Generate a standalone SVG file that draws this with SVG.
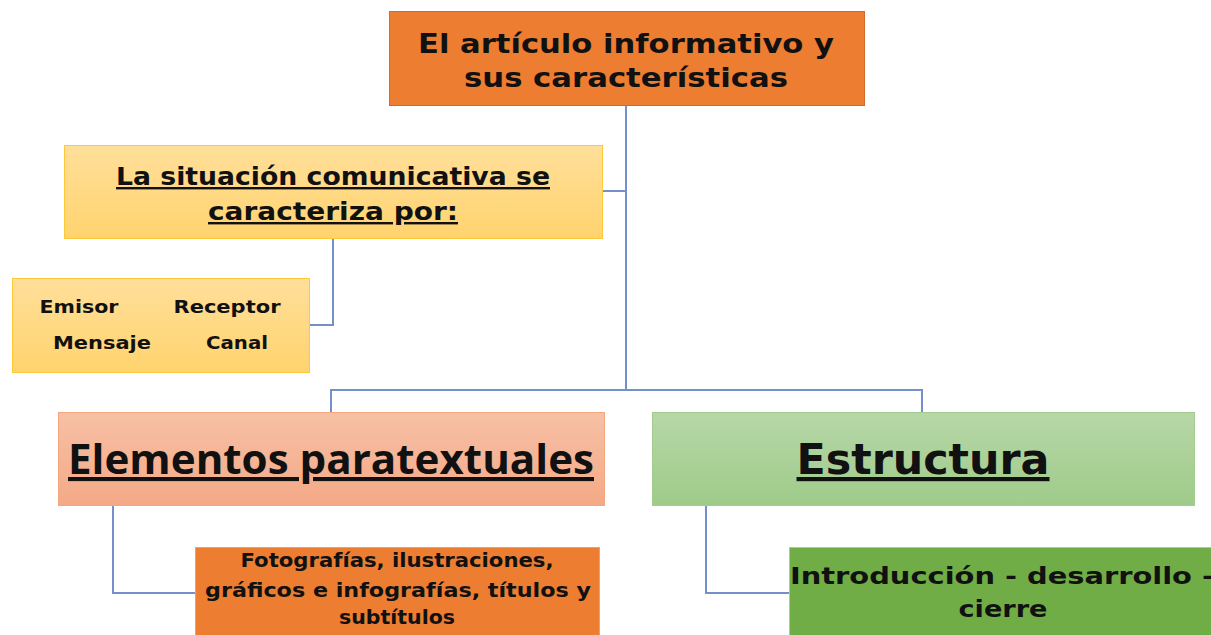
<svg xmlns="http://www.w3.org/2000/svg" width="1211" height="635" viewBox="0 0 1211 635">
<defs>
<linearGradient id="gYel" x1="0" y1="0" x2="0" y2="1"><stop offset="0" stop-color="#FFDF9A"/><stop offset="1" stop-color="#FFD36E"/></linearGradient>
<linearGradient id="gSal" x1="0" y1="0" x2="0" y2="1"><stop offset="0" stop-color="#F7C0A6"/><stop offset="1" stop-color="#F4A986"/></linearGradient>
<linearGradient id="gGrn" x1="0" y1="0" x2="0" y2="1"><stop offset="0" stop-color="#B7D7A8"/><stop offset="1" stop-color="#9FCB8A"/></linearGradient>
<style>
.t{font-family:"Comic Sans MS","DejaVu Sans",sans-serif;font-weight:bold;fill:#111;text-anchor:middle}
.c{fill:none;stroke:#7391C8;stroke-width:2}
</style>
</defs>
<rect width="1211" height="635" fill="#fff"/>
<g id="connectors">
<path class="c" d="M626 105V390"/>
<path class="c" d="M603 191H626"/>
<path class="c" d="M333 239V325H310"/>
<path class="c" d="M331 412V390H922V412"/>
<path class="c" d="M113 506V593H195"/>
<path class="c" d="M706 506V593H789"/>
</g>
<g id="n-title">
<rect x="389.5" y="11.5" width="475" height="94" fill="#ED7D31" stroke="#D5692A"/>
<text class="t" x="626" y="53" font-size="27" textLength="416" lengthAdjust="spacingAndGlyphs">El artículo informativo y</text>
<text class="t" x="626" y="87" font-size="27" textLength="324" lengthAdjust="spacingAndGlyphs">sus características</text>
</g>
<g id="n-situacion">
<rect x="64.5" y="145.5" width="538" height="93" fill="url(#gYel)" stroke="#FFC838"/>
<text class="t" x="333" y="185" font-size="24" text-decoration="underline" textLength="434" lengthAdjust="spacingAndGlyphs">La situación comunicativa se</text>
<text class="t" x="333" y="220" font-size="24" text-decoration="underline" textLength="250" lengthAdjust="spacingAndGlyphs">caracteriza por:</text>
</g>
<g id="n-emisor">
<rect x="12.5" y="278.5" width="297" height="94" fill="url(#gYel)" stroke="#FFC838"/>
<text class="t" x="79" y="313" font-size="18" textLength="79" lengthAdjust="spacingAndGlyphs">Emisor</text>
<text class="t" x="227" y="313" font-size="18" textLength="107" lengthAdjust="spacingAndGlyphs">Receptor</text>
<text class="t" x="102" y="349" font-size="18" textLength="98" lengthAdjust="spacingAndGlyphs">Mensaje</text>
<text class="t" x="237" y="349" font-size="18" textLength="62" lengthAdjust="spacingAndGlyphs">Canal</text>
</g>
<g id="n-elementos">
<rect x="58.5" y="412.5" width="546" height="93" fill="url(#gSal)" stroke="#F4A67E"/>
<text x="331" y="474" font-family="'Open Sans','Liberation Sans',sans-serif" font-weight="bold" font-size="41" fill="#111" text-anchor="middle" text-decoration="underline" textLength="526" lengthAdjust="spacingAndGlyphs">Elementos paratextuales</text>
</g>
<g id="n-estructura">
<rect x="652.5" y="412.5" width="542" height="93" fill="url(#gGrn)" stroke="#A3CB8E"/>
<text class="t" x="923" y="474" font-size="42" text-decoration="underline" textLength="253" lengthAdjust="spacingAndGlyphs">Estructura</text>
</g>
<g id="n-fotografias">
<rect x="195.5" y="547.5" width="404" height="95" fill="#ED7D31" stroke="#E8A177"/>
<text class="t" x="397" y="567" font-size="19" textLength="313" lengthAdjust="spacingAndGlyphs">Fotografías, ilustraciones,</text>
<text class="t" x="398" y="597" font-size="19" textLength="386" lengthAdjust="spacingAndGlyphs">gráficos e infografías, títulos y</text>
<text class="t" x="397" y="624" font-size="19" textLength="116" lengthAdjust="spacingAndGlyphs">subtítulos</text>
</g>
<g id="n-introduccion">
<rect x="789.5" y="547.5" width="440" height="95" fill="#70AD47" stroke="#A9CD94"/>
<text class="t" x="1002" y="584" font-size="23" textLength="424" lengthAdjust="spacingAndGlyphs">Introducción - desarrollo -</text>
<text class="t" x="1003" y="617" font-size="23" textLength="89" lengthAdjust="spacingAndGlyphs">cierre</text>
</g>
</svg>
